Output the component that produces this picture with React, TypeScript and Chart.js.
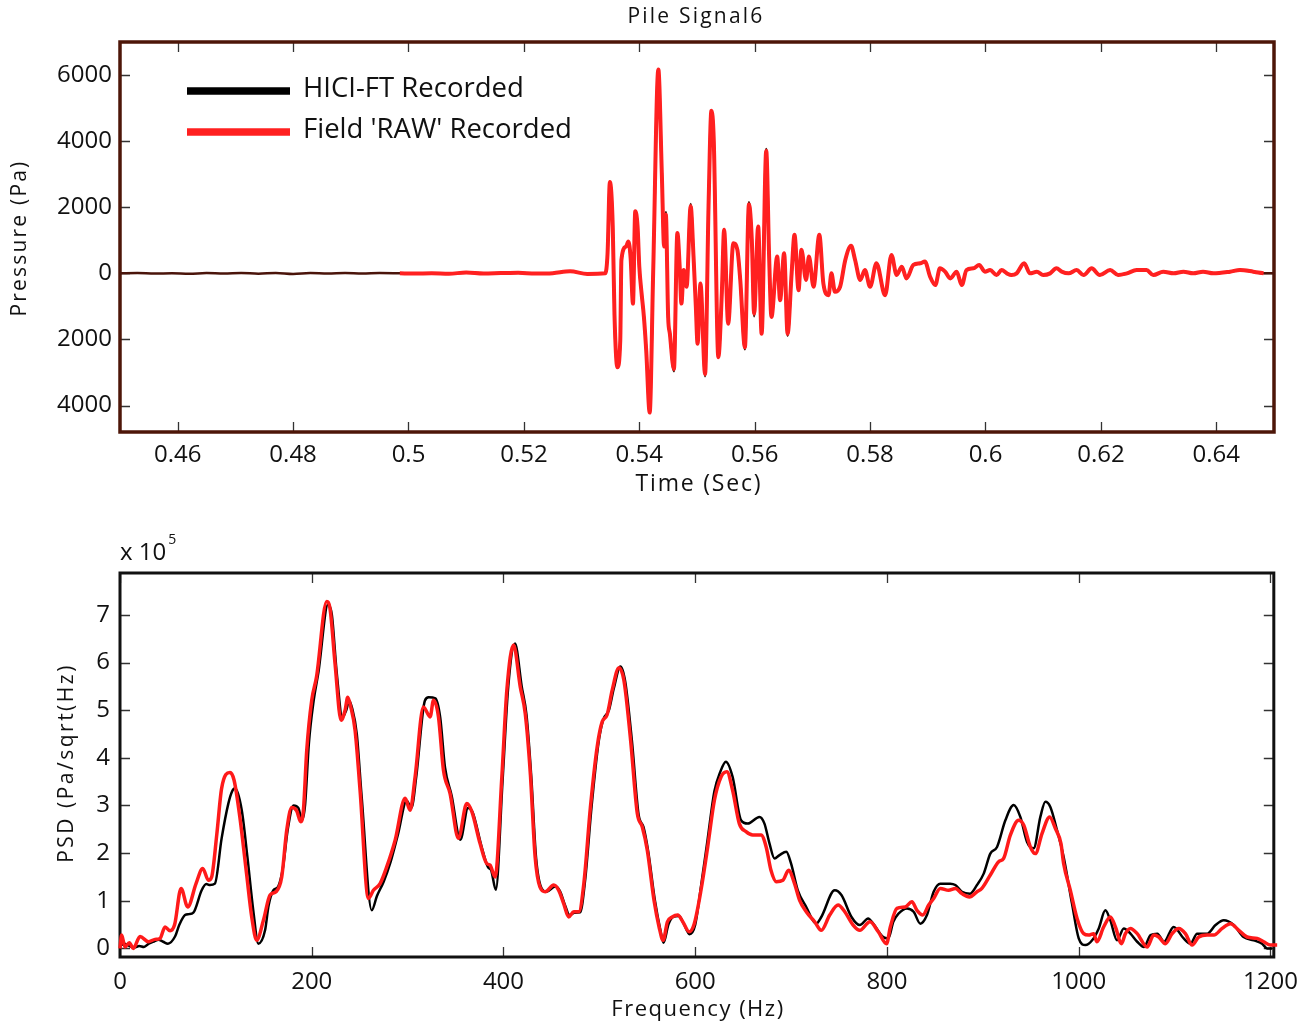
import React, { useEffect, useRef } from "react";
import { Chart, registerables } from "chart.js";

Chart.register(...registerables);

const FONT = '"Open Sans", "Noto Sans", "DejaVu Sans", sans-serif';

// ---------- Top panel: time signal ----------
const TIME_TICKS = [0.46, 0.48, 0.5, 0.52, 0.54, 0.56, 0.58, 0.6, 0.62, 0.64];
const PRESSURE_TICKS = [-4000, -2000, 0, 2000, 4000, 6000];

const TIME = [
  0.45, 0.453, 0.456, 0.459, 0.462, 0.465, 0.468, 0.471, 0.474, 0.477, 0.48, 0.483, 0.486, 0.489, 0.492, 0.495,
  0.4985, 0.501, 0.504, 0.507, 0.51, 0.513, 0.516, 0.519, 0.522, 0.525, 0.528, 0.531, 0.5341,
  0.5345, 0.5349, 0.5354, 0.5357, 0.5362, 0.5367, 0.5369, 0.5377, 0.5381, 0.5385, 0.5389, 0.5393, 0.5397,
  0.54, 0.5404, 0.5408, 0.5412, 0.5418, 0.5424, 0.5433, 0.5439, 0.5443, 0.5446, 0.545, 0.5453, 0.546,
  0.5466, 0.547, 0.5473, 0.5477, 0.5482, 0.5489, 0.5494, 0.5498, 0.5501, 0.5506, 0.5514, 0.552, 0.5525,
  0.5529, 0.5537, 0.5543, 0.5547, 0.5554, 0.5563, 0.557, 0.5575, 0.5583, 0.559, 0.5595, 0.5599, 0.5606,
  0.5612, 0.562, 0.5625, 0.5629, 0.5639, 0.5644, 0.5651, 0.5657, 0.5664, 0.5669, 0.5676, 0.5681, 0.5689,
  0.5694, 0.5702, 0.5712, 0.5719, 0.5728, 0.5733, 0.5739, 0.5748, 0.5757, 0.5767, 0.5774, 0.5783, 0.5791,
  0.58, 0.5811, 0.5826, 0.5837, 0.5846, 0.5855, 0.5863, 0.5875, 0.5887, 0.5895, 0.5904, 0.5913, 0.5921,
  0.593, 0.5939, 0.595, 0.5959, 0.5967, 0.5979, 0.5989, 0.5999, 0.6008, 0.6019, 0.6028, 0.6037, 0.6045,
  0.6054, 0.6067, 0.6077, 0.6089, 0.61, 0.6112, 0.6123, 0.6132, 0.6144, 0.6158, 0.617, 0.6184, 0.6198,
  0.6216, 0.623, 0.6245, 0.6262, 0.6279, 0.6291, 0.6308, 0.6326, 0.6343, 0.636, 0.6377, 0.6395, 0.6424,
  0.6441, 0.6464, 0.6482, 0.65,
];

const HICI_PA = [
  0, 10, -8, 6, -12, 8, -4, 12, -10, 14, -16, 8, -6, 12, -8, 10,
  0, -8, 6, -10, 24, -6, 8, 20, -8, 4, 60, -16, 0,
  609, 2761, 1421, -1320, -2842, -2030, 406, 812, 964, 457, -914, 1878, 1421,
  203, -609, -1320, -2335, -4212, 0, 6171, 3045, 812, 1850, -1320, -1827, -2960,
  1218, 203, -914, 102, -406, 2100, 508, -1015, -2132, -305, -3110, 2030, 4923,
  4060, -2538, -609, 1320, -1523, 914, 711, -203, -2300, 2150, 1015, -1300, 1421,
  -1827, 3760, 508, -1320, 508, -812, 609, -1890, 0, 1167, -508, 711, -203,
  508, -406, 1167, -305, -660, 0, -558, -406, 406, 832, 406, -203, 102,
  -406, 305, -660, 558, -51, 203, -152, 254, 305, 355, -101, -355, 152,
  51, -152, 51, -355, 101, 152, 254, 51, 101, -51, 101, 0, -51,
  0, 305, 0, 51, -51, 0, 152, 51, 0, 101, -51, 152, -51,
  101, -51, 0, 101, 101, -51, 51, 0, 51, 0, 51, 0, 51,
  101, 51, 0, 0,
];

const RAW_PA = [
  null, null, null, null, null, null, null, null, null, null, null, null, null, null, null, null,
  0, -8, 6, -10, 24, -6, 8, 20, -8, 4, 60, -16, 0,
  609, 2761, 1421, -1250, -2842, -2030, 406, 812, 964, 457, -914, 1878, 1421,
  203, -609, -1320, -2335, -4212, 0, 6171, 3045, 812, 1776, -1320, -1827, -2893,
  1218, 203, -914, 102, -406, 2030, 508, -1015, -2132, -305, -3045, 2030, 4923,
  4060, -2538, -609, 1320, -1523, 914, 711, -203, -2233, 2081, 1015, -1218, 1421,
  -1827, 3705, 508, -1320, 508, -812, 609, -1827, 0, 1167, -508, 711, -203,
  508, -406, 1167, -305, -660, 0, -558, -406, 406, 832, 406, -203, 102,
  -406, 305, -660, 558, -51, 203, -152, 254, 305, 355, -101, -355, 152,
  51, -152, 51, -355, 101, 152, 254, 51, 101, -51, 101, 0, -51,
  0, 305, 0, 51, -51, 0, 152, 51, 0, 101, -51, 152, -51,
  101, -51, 0, 101, 101, -51, 51, 0, 51, 0, 51, 0, 51,
  101, 51, 0, null,
];

// ---------- Bottom panel: PSD (values in units of 1e5 Pa/sqrt(Hz)) ----------
const FREQ_TICKS = [0, 200, 400, 600, 800, 1000, 1200];
const PSD_TICKS = [0, 1, 2, 3, 4, 5, 6, 7];

const FREQ_RAW = [
  0, 1.7, 5.2, 9.7, 13.9, 20.9, 29.6, 36.5, 41.7, 47, 52.2, 57, 63.7, 70.6, 79.3, 86.3, 92.2, 95.6, 101, 106,
  114.8, 119, 125, 132, 137.4, 142.6, 149.6, 156.5, 162.8, 168.7, 173.9, 179.1, 184.3, 188.5, 191.3, 194.8, 200,
  205, 215.6, 219, 224.3, 230.6, 234.8, 237.5, 240.7, 245.2, 250.4, 259.1, 264.3, 271.3, 278.2, 287, 297.4, 302.6,
  307.8, 316.5, 323.5, 327, 332.2, 337.4, 344.3, 353, 361.7, 367, 375.6, 382.6, 386, 391.3, 398.3, 403.5, 410.5,
  417.5, 422.7, 428, 433, 438, 443.6, 452.4, 457.6, 462.8, 468, 473.3, 478.5, 483.8, 490.7, 497.7, 503, 508,
  513.4, 520.4, 525.6, 532.6, 539.6, 544.8, 550, 557, 562.3, 566.5, 571, 576, 581.7, 587, 593.7, 599, 606, 613,
  620, 626.9, 633, 639, 646, 653, 660, 668.7, 674, 679, 684.6, 691.4, 697.4, 703.6, 708.9, 715.8, 724.6, 731.5,
  740.3, 749, 756, 764.7, 771.7, 782.2, 790.9, 799.6, 803.5, 810.4, 819, 826, 831.3, 837.3, 843.5, 848.7, 855.6,
  864.3, 871.3, 878.2, 886, 893.9, 899, 907.8, 916.5, 921.7, 928.7, 937.4, 942.6, 949.6, 954.8, 961.7, 969.7,
  975.6, 981.5, 984.3, 991.3, 998.3, 1005.2, 1010.4, 1015.6, 1019, 1026, 1033, 1038.3, 1044.6, 1048.7, 1054,
  1061, 1071.3, 1078.3, 1083.5, 1090.4, 1097.4, 1104.4, 1111.3, 1118.3, 1125.2, 1134, 1141, 1149.6, 1158.3, 1167,
  1175.7, 1186, 1193, 1200, 1207, 1214,
];
const PSD_RAW = [
  0, 0.28, 0.03, 0.12, 0, 0.25, 0.14, 0.19, 0.21, 0.45, 0.37, 0.5, 1.26, 0.87, 1.36, 1.68, 1.43, 1.5, 2.4, 3.36,
  3.69, 3.53, 2.76, 1.57, 0.66, 0.17, 0.59, 1.12, 1.19, 1.5, 2.48, 2.96, 2.89, 2.66, 2.9, 4.16, 5.21,
  5.7, 7.28, 7.14, 5.98, 4.79, 5.0, 5.27, 5.07, 4.58, 3.32, 1.05, 1.22, 1.36, 1.71, 2.27, 3.15, 2.9,
  3.6, 5.07, 4.86, 5.21, 4.86, 3.74, 3.25, 2.31, 3.04, 2.87, 2.2, 1.78, 1.75, 1.5, 3.6, 5.42, 6.37,
  5.49, 4.93, 3.67, 1.92, 1.29, 1.19, 1.33, 1.22, 0.94, 0.66, 0.77, 0.77, 1.36, 2.97, 4.23, 4.76, 4.9,
  5.42, 5.89, 5.63, 4.37, 2.83, 2.55, 2.06, 1.01, 0.45, 0.17, 0.56, 0.66, 0.7, 0.56, 0.35, 0.52, 1.22, 2.13,
  3.11, 3.6, 3.71, 3.32, 2.62, 2.45, 2.38, 2.38, 2.13, 1.64, 1.4, 1.43, 1.64, 1.36, 1.01, 0.77, 0.56, 0.38,
  0.7, 0.91, 0.77, 0.49, 0.38, 0.56, 0.35, 0.1, 0.45, 0.84, 0.87, 0.98, 0.8, 0.7, 0.91, 1.05, 1.26,
  1.22, 1.26, 1.15, 1.08, 1.19, 1.26, 1.54, 1.82, 1.89, 2.38, 2.69, 2.59, 2.13, 1.99, 2.41, 2.76,
  2.52, 2.2, 1.78, 1.22, 0.63, 0.31, 0.28, 0.31, 0.14, 0.45, 0.66, 0.45, 0.1, 0.31, 0.42,
  0.31, 0.03, 0.28, 0.24, 0.1, 0.31, 0.42, 0.31, 0.07, 0.24, 0.28, 0.28, 0.42, 0.52, 0.38,
  0.24, 0.21, 0.14, 0.07, 0.07, 0.14,
];

const FREQ_HICI = [
  0, 5, 10, 15, 20, 25, 30, 36, 40, 45, 50, 57.4, 62, 67.8, 72, 76.5, 85.2, 90, 93.9, 99, 106, 113, 117, 120,
  127, 133, 139, 144.3, 151.3, 155, 160, 165, 170, 175, 181, 186, 190, 193, 197, 202, 207, 217, 221, 226, 232,
  236, 239, 242, 247, 252, 262.6, 268, 275, 282, 290, 299, 304, 309, 318, 322, 329, 334, 339, 346, 355, 363,
  368, 377, 384, 387, 392, 399, 405, 412, 419, 424, 429, 434, 440, 445, 454, 459, 464, 469, 474, 480, 485,
  492, 499, 504, 510, 515, 522, 527, 534, 541, 546, 551, 558, 564, 567, 572, 577, 583, 588, 594, 600, 606,
  613, 620, 626, 632, 639, 647.8, 654.8, 667, 672.2, 677.5, 682.7, 688, 695, 700, 707, 715.8, 726, 731.5,
  745.5, 752.5, 763, 771.7, 780.4, 785.6, 796, 801.4, 806.6, 812, 820.9, 827.8, 834.8, 841.7, 848.7, 855.6,
  866, 871.3, 878.2, 886.7, 893.9, 900.9, 907.8, 914.8, 923.5, 932.2, 939.1, 946, 953, 960, 965.2, 970.4,
  977.4, 984.3, 993, 1000, 1007, 1014, 1020.9, 1027.8, 1033, 1040, 1047, 1054, 1061, 1068, 1075, 1082, 1089,
  1099, 1109.5, 1116.5, 1123.5, 1134, 1142.7, 1151.3, 1161.7, 1172, 1182.6, 1191.3, 1196.5, 1201.7,
];
const PSD_HICI = [
  0.05, 0.1, 0.05, 0.02, 0.05, 0.03, 0.1, 0.15, 0.18, 0.14, 0.1, 0.25, 0.5, 0.7, 0.72, 0.75, 1.22, 1.35, 1.33,
  1.36, 2.31, 3.04, 3.3, 3.36, 2.9, 1.9, 0.8, 0.1, 0.38, 0.9, 1.22, 1.3, 1.7, 2.5, 3.0, 2.95, 2.7, 3.0, 4.3,
  5.2, 5.8, 7.22, 7.0, 5.8, 4.85, 5.0, 5.2, 5.05, 4.5, 3.2, 0.8, 1.1, 1.4, 1.8, 2.4, 3.1, 2.95, 3.6, 5.2,
  5.27, 5.25, 4.85, 3.8, 3.2, 2.28, 2.95, 2.85, 2.15, 1.7, 1.65, 1.23, 3.5, 5.5, 6.4, 5.5, 4.9, 3.6, 1.9,
  1.25, 1.19, 1.3, 1.2, 0.92, 0.7, 0.75, 0.76, 1.4, 3.0, 4.3, 4.8, 5.0, 5.45, 5.92, 5.6, 4.35, 2.8, 2.55,
  2.03, 1.0, 0.35, 0.12, 0.5, 0.66, 0.68, 0.52, 0.3, 0.5, 1.3, 2.3, 3.3, 3.7, 3.92, 3.6, 2.69, 2.62, 2.76,
  2.62, 2.2, 1.89, 1.96, 2.03, 1.78, 1.22, 0.87, 0.52, 0.66, 1.22, 1.12, 0.66, 0.49, 0.63, 0.52, 0.24, 0.21,
  0.56, 0.73, 0.84, 0.77, 0.52, 0.7, 1.19, 1.36, 1.36, 1.33, 1.19, 1.15, 1.33, 1.57, 1.99, 2.13, 2.69, 3.01,
  2.76, 2.24, 2.1, 2.76, 3.08, 2.97, 2.48, 1.92, 0.94, 0.21, 0.07, 0.17, 0.42, 0.8, 0.59, 0.17, 0.42, 0.31,
  0.14, 0.03, 0.28, 0.31, 0.14, 0.45, 0.21, 0.1, 0.31, 0.31, 0.49, 0.59, 0.49, 0.24, 0.17, 0.1, 0, 0,
];

const LABEL_HICI = "HICI-FT Recorded";
const LABEL_RAW = "Field 'RAW' Recorded";

const toPoints = (xs: number[], ys: (number | null)[]) => xs.map((x, i) => ({ x, y: ys[i] }));
const fmt = (v: number) => String(Number(v.toFixed(4)));

// Draws MATLAB-like box with inward ticks on all four sides
const framePlugin = {
  id: "matlabFrame",
  beforeDatasetsDraw(chart: any, _args: any, opts: any) {
    const { ctx, chartArea: a, scales } = chart;
    ctx.save();
    ctx.strokeStyle = opts.tickColor || "#333";
    ctx.lineWidth = 1.3;
    ctx.beginPath();
    const L = 10;
    for (const t of scales.x.ticks) {
      const px = Math.round(scales.x.getPixelForValue(t.value)) + 0.5;
      ctx.moveTo(px, a.bottom);
      ctx.lineTo(px, a.bottom - L);
      ctx.moveTo(px, a.top);
      ctx.lineTo(px, a.top + L);
    }
    for (const t of scales.y.ticks) {
      const py = Math.round(scales.y.getPixelForValue(t.value)) + 0.5;
      ctx.moveTo(a.left, py);
      ctx.lineTo(a.left + L, py);
      ctx.moveTo(a.right, py);
      ctx.lineTo(a.right - L, py);
    }
    ctx.stroke();
    ctx.strokeStyle = opts.frameColor || "#000";
    ctx.lineWidth = opts.frameWidth || 3;
    ctx.strokeRect(a.left, a.top, a.right - a.left, a.bottom - a.top);
    ctx.restore();
  },
};

// Draws free texts (titles, axis labels, exponent, legend)
const textPlugin = {
  id: "freeText",
  afterDraw(chart: any, _args: any, opts: any) {
    const { ctx } = chart;
    ctx.save();
    for (const it of opts.items || []) {
      ctx.save();
      ctx.font = `${it.size}px ${FONT}`;
      ctx.fillStyle = it.color || "#111";
      (ctx as any).letterSpacing = it.spacing ? `${it.spacing}px` : "0px";
      ctx.textAlign = it.align || "center";
      ctx.textBaseline = "middle";
      ctx.translate(it.x, it.y);
      if (it.rotate) ctx.rotate(it.rotate);
      ctx.fillText(it.text, 0, 0);
      ctx.restore();
    }
    if (opts.exponent) {
      const e = opts.exponent;
      ctx.font = `${e.size}px ${FONT}`;
      ctx.fillStyle = "#111";
      ctx.textAlign = "left";
      ctx.textBaseline = "middle";
      ctx.fillText(e.base, e.x, e.y);
      const w = ctx.measureText(e.base).width;
      ctx.font = `${e.supSize}px ${FONT}`;
      ctx.fillText(e.sup, e.x + w + 2, e.y - 13);
    }
    if (opts.legend) {
      const lg = opts.legend;
      chart.data.datasets.forEach((ds: any, i: number) => {
        const y = lg.y + i * lg.gap;
        ctx.strokeStyle = lg.colors[i];
        ctx.lineWidth = lg.lineWidth;
        ctx.beginPath();
        ctx.moveTo(lg.x, y);
        ctx.lineTo(lg.x + lg.len, y);
        ctx.stroke();
        ctx.font = `${lg.size}px ${FONT}`;
        ctx.fillStyle = "#111";
        ctx.textAlign = "left";
        ctx.textBaseline = "middle";
        ctx.fillText(ds.label, lg.x + lg.len + 13, y - 2);
      });
    }
    ctx.restore();
  },
};

const tickFont = { family: FONT, size: 24 };

function TopChart() {
  const ref = useRef<HTMLCanvasElement>(null);
  useEffect(() => {
    const chart = new Chart(ref.current as HTMLCanvasElement, {
      type: "line",
      data: {
        datasets: [
          {
            label: LABEL_HICI,
            data: toPoints(TIME, HICI_PA),
            borderColor: "#4a140a",
            borderWidth: 2.5,
            pointRadius: 0,
            cubicInterpolationMode: "monotone",
            order: 1,
          },
          {
            label: LABEL_RAW,
            data: toPoints(TIME, RAW_PA),
            borderColor: "#ff2020",
            borderWidth: 4,
            pointRadius: 0,
            cubicInterpolationMode: "monotone",
            spanGaps: false,
            order: 0,
          },
        ],
      },
      options: {
        responsive: false,
        animation: false,
        events: [],
        layout: { padding: { top: 42, right: 35, left: 0, bottom: 0 } },
        scales: {
          x: {
            type: "linear",
            min: 0.45,
            max: 0.65,
            grid: { display: false, drawTicks: false },
            border: { display: false },
            afterBuildTicks: (s: any) => {
              s.ticks = TIME_TICKS.map((v) => ({ value: v }));
            },
            afterFit: (s: any) => {
              s.height = 73;
            },
            ticks: { font: tickFont, color: "#111", padding: 9, maxRotation: 0, autoSkip: false, callback: (v: any) => fmt(v) },
          },
          y: {
            type: "linear",
            min: -4800,
            max: 7000,
            grid: { display: false, drawTicks: false },
            border: { display: false },
            afterBuildTicks: (s: any) => {
              s.ticks = PRESSURE_TICKS.map((v) => ({ value: v }));
            },
            afterFit: (s: any) => {
              s.width = 120;
            },
            ticks: { font: tickFont, color: "#111", padding: 8, callback: (v: any) => String(Math.abs(v)) },
          },
        },
        plugins: {
          legend: { display: false },
          tooltip: { enabled: false },
          matlabFrame: { frameColor: "#4d1608", frameWidth: 3.5, tickColor: "#333" },
          freeText: {
            items: [
              { text: "Pile Signal6", x: 696, y: 17, size: 21, spacing: 2.2 },
              { text: "Time (Sec)", x: 699, y: 484, size: 23, spacing: 1.8 },
              { text: "Pressure (Pa)", x: 20, y: 238, size: 21, spacing: 2.2, rotate: -Math.PI / 2 },
            ],
            legend: { x: 187, y: 91, gap: 41, len: 103, lineWidth: 7.5, size: 27.5, colors: ["#000000", "#ff2020"] },
          },
        } as any,
      },
      plugins: [framePlugin, textPlugin],
    } as any);
    return () => chart.destroy();
  }, []);
  return <canvas ref={ref} width={1309} height={505} style={{ display: "block" }} />;
}

function BottomChart() {
  const ref = useRef<HTMLCanvasElement>(null);
  useEffect(() => {
    const chart = new Chart(ref.current as HTMLCanvasElement, {
      type: "line",
      data: {
        datasets: [
          {
            label: LABEL_HICI,
            data: toPoints(FREQ_HICI, PSD_HICI),
            borderColor: "#000000",
            borderWidth: 2.5,
            pointRadius: 0,
            cubicInterpolationMode: "monotone",
            order: 1,
          },
          {
            label: LABEL_RAW,
            data: toPoints(FREQ_RAW, PSD_RAW),
            borderColor: "#ff1a1a",
            borderWidth: 3.5,
            pointRadius: 0,
            cubicInterpolationMode: "monotone",
            clip: { left: 4, top: 0, right: 14, bottom: 4 },
            order: 0,
          },
        ],
      },
      options: {
        responsive: false,
        animation: false,
        events: [],
        layout: { padding: { top: 68, right: 35, left: 0, bottom: 0 } },
        scales: {
          x: {
            type: "linear",
            min: 0,
            max: 1203.5,
            grid: { display: false, drawTicks: false },
            border: { display: false },
            afterBuildTicks: (s: any) => {
              s.ticks = FREQ_TICKS.map((v) => ({ value: v }));
            },
            afterFit: (s: any) => {
              s.height = 70;
            },
            ticks: { font: tickFont, color: "#111", padding: 11, maxRotation: 0, autoSkip: false, callback: (v: any) => fmt(v) },
          },
          y: {
            type: "linear",
            min: -0.18,
            max: 7.88,
            grid: { display: false, drawTicks: false },
            border: { display: false },
            afterBuildTicks: (s: any) => {
              s.ticks = PSD_TICKS.map((v) => ({ value: v }));
            },
            afterFit: (s: any) => {
              s.width = 120;
            },
            ticks: { font: tickFont, color: "#111", padding: 10, callback: (v: any) => fmt(v) },
          },
        },
        plugins: {
          legend: { display: false },
          tooltip: { enabled: false },
          matlabFrame: { frameColor: "#111", frameWidth: 3, tickColor: "#333" },
          freeText: {
            items: [
              { text: "Frequency (Hz)", x: 698, y: 505, size: 22, spacing: 1.5 },
              { text: "PSD (Pa/sqrt(Hz)", x: 67, y: 258, size: 21, spacing: 2.5, rotate: -Math.PI / 2 },
            ],
            exponent: { base: "x 10", sup: "5", x: 120, y: 48, size: 24, supSize: 14 },
          },
        } as any,
      },
      plugins: [framePlugin, textPlugin],
    } as any);
    return () => chart.destroy();
  }, []);
  return <canvas ref={ref} width={1309} height={522} style={{ display: "block" }} />;
}

export default function App() {
  return (
    <div style={{ position: "absolute", left: 0, top: 0, width: 1309, height: 1027, background: "#fff", overflow: "hidden" }}>
      <TopChart />
      <BottomChart />
    </div>
  );
}
